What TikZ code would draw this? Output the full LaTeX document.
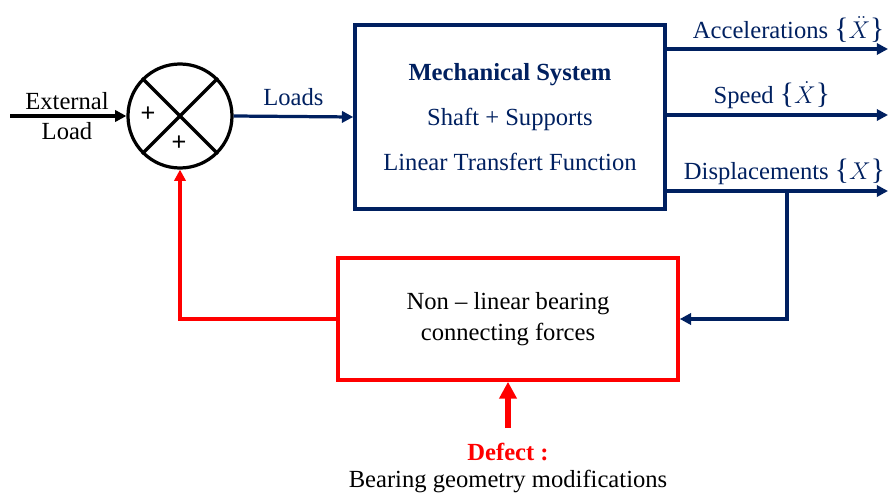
\documentclass[tikz,border=0pt]{standalone}
\usepackage{amsmath}
\usepackage{fontspec}
\setmainfont{Liberation Serif}
\setsansfont{Liberation Sans}
\usepackage{tikz}
\usetikzlibrary{arrows.meta, positioning, calc}

\definecolor{navy}{RGB}{0,32,96}
\definecolor{pptred}{RGB}{255,0,0}

\newcommand{\vecopen}{{\fontsize{21}{21}\selectfont\{}}
\newcommand{\vecclose}{{\fontsize{21}{21}\selectfont\}}}

\begin{document}
\begin{tikzpicture}[
  x=0.025cm, y=-0.025cm,
  every node/.style={font=\fontsize{17.5}{21}\selectfont},
  sumcirc/.style={circle, draw, line width=2.3pt, minimum size=2.6cm, inner sep=0pt},
  mechbox/.style={rectangle, draw=navy, line width=2.5pt, text=navy, align=center,
    minimum width=7.75cm, minimum height=4.6cm},
  nlbox/.style={rectangle, draw=pptred, line width=2.5pt, align=center,
    minimum width=8.5cm, minimum height=3.05cm},
  blackarrow/.style={-{Triangle[length=8pt,width=8pt]}, line width=2.3pt},
  navyarrow/.style={-{Triangle[length=8pt,width=8pt]}, line width=2.3pt, draw=navy},
  redarrow/.style={-{Triangle[length=8pt,width=8pt]}, line width=2.3pt, draw=pptred},
  defectarrow/.style={-{Triangle[length=12pt,width=12pt]}, line width=3.8pt, draw=pptred}
]
  \useasboundingbox (0,0) rectangle (888,493);

  % summing junction
  \node[sumcirc] (sum) at (180,116) {};
  \draw[line width=2.3pt] (sum.north west) -- (sum.south east);
  \draw[line width=2.3pt] (sum.north east) -- (sum.south west);
  \node[font=\sffamily\fontsize{18}{20}\selectfont] (plusleft) at (148,114) {+};
  \node[font=\sffamily\fontsize{18}{20}\selectfont] (plusbottom) at (179,143) {+};

  \coordinate (extin) at (10,116);
  \node[align=center] (extlabel) at (67,116) {External\\[0.5pt]Load};
  \draw[blackarrow] (extin) -- (sum.west);

  % mechanical system
  \node[mechbox] (mech) at (510,117)
    {\textbf{Mechanical System}\\[11pt] Shaft + Supports\\[11pt] Linear Transfert Function};
  \draw[navyarrow] (sum.east) -- node[above, text=navy, yshift=3pt] {Loads} (mech.west);

  % outputs
  \coordinate (outacc) at (888,49);
  \coordinate (outspeed) at (888,115);
  \coordinate (outdisp) at (888,191);
  \draw[navyarrow] (mech.east |- outacc) -- node[above, text=navy, xshift=8pt] {Accelerations \vecopen$\ddot{X}$\vecclose} (outacc);
  \draw[navyarrow] (mech.east |- outspeed) -- node[above, text=navy, xshift=-4pt] {Speed \vecopen$\dot{X}$\vecclose} (outspeed);
  \draw[navyarrow] (mech.east |- outdisp) -- node[above, text=navy, xshift=5pt] {Displacements \vecopen$X$\vecclose} (outdisp);

  % bearing forces loop
  \node[nlbox] (bearing) at (508,319) {Non -- linear bearing\\[0.5pt]connecting forces};
  \coordinate (tap) at (787,191);
  \draw[navyarrow] (tap) |- (bearing.east);
  \draw[redarrow] (bearing.west) -| (sum.south);

  % defect
  \coordinate (defbase) at (508,428);
  \draw[defectarrow] (defbase) -- (bearing.south);
  \node[text=pptred, font=\bfseries\fontsize{17.5}{21}\selectfont] (defect) at (508,452) {Defect :};
  \node (defdesc) at (508,481) {Bearing geometry modifications};
\end{tikzpicture}
\end{document}
